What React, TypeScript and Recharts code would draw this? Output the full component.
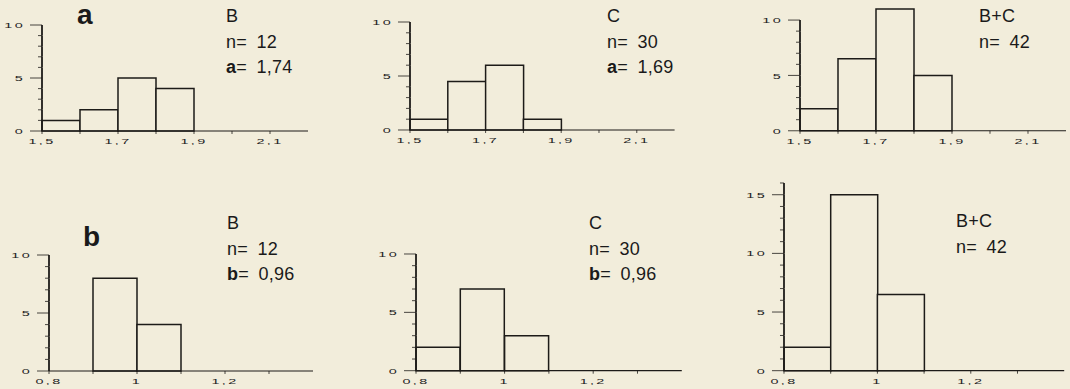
import React from 'react'
import { BarChart, Bar, XAxis, YAxis } from 'recharts'

// bins (class starts) and counts
const binsA = ['1,5', '1,6', '1,7', '1,8', '1,9', '2,0', '2,1']
const labelsA = ['1,5', '', '1,7', '', '1,9', '', '2,1']
const countsAB = [1, 2, 5, 4, 0, 0, 0]
const countsAC = [1, 4.5, 6, 1, 0, 0, 0]
const countsABC = [2, 6.5, 11, 5, 0, 0, 0]

const binsB = ['0,8', '0,9', '1', '1,1', '1,2', '1,3']
const labelsB = ['0,8', '', '1', '', '1,2', '']
const countsBB = [0, 8, 4, 0, 0, 0]
const countsBC = [2, 7, 3, 0, 0, 0]
const countsBBC = [2, 15, 6.5, 0, 0, 0]

const INK = '#1d1b18'
const BG = '#f2eddb'
const SP = '\u2002'
const AW = 40
const MT = 6
const MR = 4
const XH = 22

interface PanelProps {
  bins: string[]
  labels: string[]
  values: number[]
  x0: number
  y0: number
  binPx: number
  unitPx: number
  yMax: number
  axisTop: number
}

function Histogram({ bins, labels, values, x0, y0, binPx, unitPx, yMax, axisTop }: PanelProps) {
  const plotW = bins.length * binPx
  const plotH = yMax * unitPx
  const width = AW + plotW + MR
  const height = MT + plotH + XH
  const rows = bins.map((bin, i) => ({ bin, n: values[i] }))
  const yTicks = Array.from({ length: axisTop + 1 }, (_, i) => i)

  const yTick = (props: any) => {
    const { y, payload } = props
    const v = payload.value as number
    const major = v % 5 === 0
    return (
      <g>
        {v > 0 && <line x1={AW} x2={AW} y1={y} y2={y + unitPx} stroke={INK} strokeWidth={1.8} />}
        <line x1={AW - (major ? 12 : 4)} x2={AW} y1={y} y2={y} stroke={INK} strokeWidth={0.8} />
        {major && (
          <text
            transform={`translate(${AW - 17},${y}) scale(1.8,1)`}
            textAnchor="end"
            dominantBaseline="central"
            fontSize={8}
            letterSpacing={1.3}
            fontFamily="Liberation Sans"
            fill="#222"
          >
            {v}
          </text>
        )}
      </g>
    )
  }

  const xTick = (props: any) => {
    const { x, y, payload } = props
    const start = x - binPx / 2
    const label = labels[payload.index]
    return (
      <g>
        <line x1={start} x2={start} y1={y} y2={y + 3} stroke={INK} strokeWidth={0.8} />
        {label && (
          <text
            transform={`translate(${start},${y + 10}) scale(1.8,1)`}
            textAnchor="middle"
            dominantBaseline="central"
            fontSize={8}
            letterSpacing={1.3}
            fontFamily="Liberation Sans"
            fill="#222"
          >
            {label}
          </text>
        )}
      </g>
    )
  }

  return (
    <div style={{ position: 'absolute', left: x0 - AW, top: y0 - plotH - MT }}>
      <BarChart
        width={width}
        height={height}
        data={rows}
        margin={{ top: MT, right: MR, bottom: 0, left: 0 }}
        barCategoryGap={0}
        barGap={0}
      >
        <XAxis
          dataKey="bin"
          height={XH}
          interval={0}
          tickSize={0}
          tickMargin={0}
          tickLine={false}
          axisLine={{ stroke: INK, strokeWidth: 1.2 }}
          tick={xTick}
        />
        <YAxis
          width={AW}
          type="number"
          domain={[0, yMax]}
          ticks={yTicks}
          interval={0}
          tickSize={0}
          tickMargin={0}
          tickLine={false}
          axisLine={false}
          tick={yTick}
        />
        <Bar dataKey="n" fill={BG} stroke={INK} strokeWidth={1.5} isAnimationActive={false} />
      </BarChart>
    </div>
  )
}

const textStyle: React.CSSProperties = {
  position: 'absolute',
  fontFamily: 'Liberation Sans, Arial, sans-serif',
  fontSize: 18,
  letterSpacing: 0.3,
  lineHeight: '25.5px',
  color: '#1a1a1a',
  whiteSpace: 'nowrap',
}

const bigStyle: React.CSSProperties = {
  position: 'absolute',
  fontFamily: 'Liberation Sans, Arial, sans-serif',
  fontSize: 28,
  fontWeight: 'bold',
  lineHeight: '28px',
  color: '#1a1a1a',
}

function Note({ left, top, lines }: { left: number; top: number; lines: React.ReactNode[] }) {
  return (
    <div style={{ ...textStyle, left, top }}>
      {lines.map((l, i) => (
        <div key={i}>{l}</div>
      ))}
    </div>
  )
}

export default function App() {
  return (
    <div style={{ position: 'absolute', left: 0, top: 0, width: 1070, height: 389, background: BG, overflow: 'hidden' }}>
      <Histogram bins={binsA} labels={labelsA} values={countsAB} x0={42} y0={130.5} binPx={38} unitPx={10.6} yMax={10} axisTop={10} />
      <Histogram bins={binsA} labels={labelsA} values={countsAC} x0={410} y0={130} binPx={37.8} unitPx={10.8} yMax={10} axisTop={10} />
      <Histogram bins={binsA} labels={labelsA} values={countsABC} x0={800} y0={130.7} binPx={38} unitPx={11.07} yMax={11} axisTop={10} />
      <Histogram bins={binsB} labels={labelsB} values={countsBB} x0={49} y0={371} binPx={44} unitPx={11.6} yMax={10} axisTop={10} />
      <Histogram bins={binsB} labels={labelsB} values={countsBC} x0={416} y0={371} binPx={44.3} unitPx={11.67} yMax={10} axisTop={10} />
      <Histogram bins={binsB} labels={labelsB} values={countsBBC} x0={784.3} y0={370.7} binPx={46.7} unitPx={11.73} yMax={16} axisTop={16} />

      <div style={{ ...bigStyle, left: 77, top: 1 }}>a</div>
      <div style={{ ...bigStyle, left: 83, top: 223 }}>b</div>

      <Note left={226} top={4} lines={['B', `n=${SP}12`, <span><b>a</b>{`=${SP}1,74`}</span>]} />
      <Note left={607} top={4} lines={['C', `n=${SP}30`, <span><b>a</b>{`=${SP}1,69`}</span>]} />
      <Note left={979} top={4} lines={['B+C', `n=${SP}42`]} />
      <Note left={227} top={211} lines={['B', `n=${SP}12`, <span><b>b</b>{`=${SP}0,96`}</span>]} />
      <Note left={589} top={211} lines={['C', `n=${SP}30`, <span><b>b</b>{`=${SP}0,96`}</span>]} />
      <Note left={956} top={209} lines={['B+C', `n=${SP}42`]} />
    </div>
  )
}
